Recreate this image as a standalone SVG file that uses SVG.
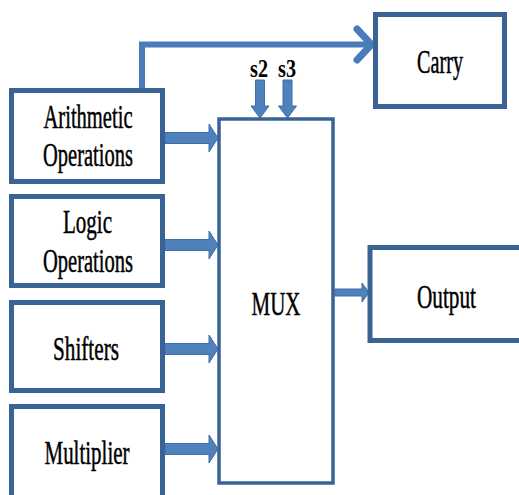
<svg xmlns="http://www.w3.org/2000/svg" width="519" height="495" viewBox="0 0 519 495">
<style>
.box{fill:#ffffff;stroke:#3a6395;stroke-width:5}
.mux{fill:#ffffff;stroke:#3a6395;stroke-width:3.5}
.lbl{font-family:"Liberation Serif","Times New Roman",serif;font-size:34px;fill:#000000;stroke:#000000;stroke-width:0.5;text-anchor:middle}
.sel{font-family:"Liberation Serif","Times New Roman",serif;font-size:25px;font-weight:bold;fill:#000000;text-anchor:middle}
.fat{fill:#4f81bd;stroke:#3f6ea8;stroke-width:1}
.line{fill:none;stroke:#4a7cba;stroke-linejoin:miter}
</style>
<rect width="519" height="495" fill="#ffffff"/>
<g id="connectors">
  <polyline class="line" points="142,88 142,44.5 371,44.5" stroke-width="6"/>
  <polyline class="line" points="357,29 371.5,44.5 357,60" stroke-width="7" stroke-linecap="round" stroke-linejoin="round"/>
  <polygon class="fat" points="165,132.5 209,132.5 209,124 218,138 209,152 209,143.5 165,143.5"/>
  <polygon class="fat" points="165,239.5 209,239.5 209,231 218,245 209,259 209,250.5 165,250.5"/>
  <polygon class="fat" points="165,343.5 209,343.5 209,335 218,349 209,363 209,354.5 165,354.5"/>
  <polygon class="fat" points="165,443.5 209,443.5 209,435 218,449 209,463 209,454.5 165,454.5"/>
  <polygon class="fat" points="335,289 362,289 362,283 369,292.5 362,302 362,296 335,296"/>
  <polygon class="fat" points="255.5,80 264.5,80 264.5,106 269,106 260,118 251,106 255.5,106"/>
  <polygon class="fat" points="283,80 292,80 292,106 296.5,106 287.5,118 278.5,106 283,106"/>
</g>
<g id="arith">
  <rect class="box" x="11.5" y="90.5" width="151" height="91"/>
  <text class="lbl" x="88" y="128" textLength="89" lengthAdjust="spacingAndGlyphs">Arithmetic</text>
  <text class="lbl" x="88" y="166" textLength="90" lengthAdjust="spacingAndGlyphs">Operations</text>
</g>
<g id="logic">
  <rect class="box" x="11.5" y="196.5" width="151" height="89"/>
  <text class="lbl" x="87.5" y="233" textLength="49" lengthAdjust="spacingAndGlyphs">Logic</text>
  <text class="lbl" x="88" y="272" textLength="90" lengthAdjust="spacingAndGlyphs">Operations</text>
</g>
<g id="shifters">
  <rect class="box" x="11.5" y="302.5" width="151" height="88"/>
  <text class="lbl" x="86" y="360" textLength="66" lengthAdjust="spacingAndGlyphs">Shifters</text>
</g>
<g id="multiplier">
  <rect class="box" x="11.5" y="406.5" width="151" height="100"/>
  <text class="lbl" x="87" y="464" textLength="85" lengthAdjust="spacingAndGlyphs">Multiplier</text>
</g>
<g id="mux">
  <rect class="mux" x="219" y="119" width="114" height="364"/>
  <text class="lbl" x="276" y="315" textLength="49" lengthAdjust="spacingAndGlyphs">MUX</text>
</g>
<g id="carry">
  <rect class="box" x="375.5" y="14.5" width="129" height="92"/>
  <text class="lbl" x="440" y="73" textLength="46" lengthAdjust="spacingAndGlyphs">Carry</text>
</g>
<g id="output">
  <rect class="box" x="370" y="247.5" width="160" height="93"/>
  <text class="lbl" x="446.5" y="308" textLength="59" lengthAdjust="spacingAndGlyphs">Output</text>
</g>
<g id="selects">
  <text class="sel" x="259" y="77" textLength="18" lengthAdjust="spacingAndGlyphs">s2</text>
  <text class="sel" x="287" y="77" textLength="18" lengthAdjust="spacingAndGlyphs">s3</text>
</g>
</svg>
